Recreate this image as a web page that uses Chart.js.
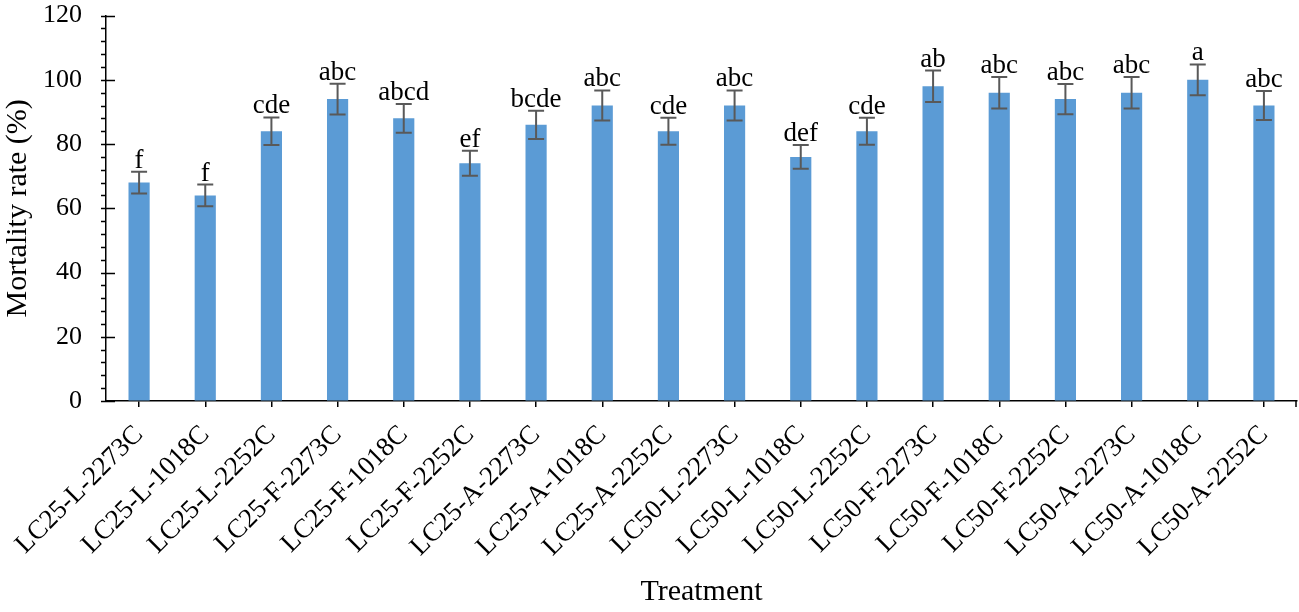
<!DOCTYPE html>
<html>
<head>
<meta charset="utf-8">
<script src="https://cdn.jsdelivr.net/npm/chart.js@4.4.0/dist/chart.umd.min.js"></script>
<style>
  html, body { margin: 0; padding: 0; background: #fff; }
  #wrap { width: 1299px; height: 612px; }
</style>
</head>
<body>
<div id="wrap"><canvas id="chart" width="1299" height="612"></canvas></div>
<script>
// treatments
const treatments = ['LC25-L-2273C', 'LC25-L-1018C', 'LC25-L-2252C', 'LC25-F-2273C', 'LC25-F-1018C', 'LC25-F-2252C',
    'LC25-A-2273C', 'LC25-A-1018C', 'LC25-A-2252C', 'LC50-L-2273C', 'LC50-L-1018C', 'LC50-L-2252C',
    'LC50-F-2273C', 'LC50-F-1018C', 'LC50-F-2252C', 'LC50-A-2273C', 'LC50-A-1018C', 'LC50-A-2252C'];

// mortality rate (%)
const mortality = [68, 64, 84, 94, 88, 74, 86, 92, 84, 92, 76, 84, 98, 96, 94, 96, 100, 92];

// error bar (+/-)
const errors = [3.4, 3.4, 4.3, 4.8, 4.5, 3.9, 4.4, 4.7, 4.2, 4.7, 3.7, 4.2, 4.9, 4.9, 4.7, 4.9, 4.8, 4.5];

// significance letters
const letters = ['f', 'f', 'cde', 'abc', 'abcd', 'ef', 'bcde', 'abc', 'cde', 'abc', 'def', 'cde', 'ab', 'abc', 'abc', 'abc', 'a', 'abc'];

// y axis ticks
const yTicks = [0, 20, 40, 60, 80, 100, 120];
const yMinorStep = 4;

const FONT = '"Liberation Serif", "Times New Roman", serif';

// error bars, letters and y-axis tick marks
const extrasPlugin = {
    id: 'extras',
    afterDatasetsDraw(chart) {
        const ctx = chart.ctx;
        const y = chart.scales.y;
        const meta = chart.getDatasetMeta(0);
        ctx.save();
        ctx.strokeStyle = '#595959';
        ctx.lineWidth = 2;
        meta.data.forEach((bar, i) => {
            const x = bar.x;
            const top = y.getPixelForValue(mortality[i] + errors[i]);
            const bot = y.getPixelForValue(mortality[i] - errors[i]);
            ctx.beginPath();
            ctx.moveTo(x, top); ctx.lineTo(x, bot);
            ctx.moveTo(x - 8, top); ctx.lineTo(x + 8, top);
            ctx.moveTo(x - 8, bot); ctx.lineTo(x + 8, bot);
            ctx.stroke();
            ctx.fillStyle = '#000';
            ctx.font = '27px ' + FONT;
            ctx.textAlign = 'center';
            ctx.textBaseline = 'alphabetic';
            ctx.fillText(letters[i], x, top - 4);
        });
        ctx.restore();
    },
    afterDraw(chart) {
        const ctx = chart.ctx;
        const y = chart.scales.y;
        const x = chart.scales.x;
        const ax = chart.chartArea.left;
        ctx.save();
        ctx.strokeStyle = '#000';
        ctx.lineWidth = 1.5;
        ctx.beginPath();
        for (let v = y.min; v <= y.max; v += yMinorStep) {
            const py = Math.round(y.getPixelForValue(v)) + 0.5;
            if (yTicks.includes(v)) {
                ctx.moveTo(ax - 5, py); ctx.lineTo(ax + 9, py);
            } else {
                ctx.moveTo(ax - 5, py); ctx.lineTo(ax, py);
            }
        }
        // tick at the right end of the x axis
        const bx = chart.chartArea.right - 1;
        ctx.moveTo(bx, x.top); ctx.lineTo(bx, x.top + 6);
        ctx.stroke();
        ctx.restore();
    }
};

new Chart(document.getElementById('chart'), {
    type: 'bar',
    data: {
        labels: treatments,
        datasets: [{
            data: mortality,
            backgroundColor: '#5B9BD5',
            borderWidth: 0,
            categoryPercentage: 1.0,
            barPercentage: 0.32
        }]
    },
    options: {
        responsive: false,
        animation: false,
        devicePixelRatio: 1,
        layout: { padding: { top: 15, right: 2, left: 0, bottom: 0 } },
        plugins: {
            legend: { display: false },
            tooltip: { enabled: false }
        },
        scales: {
            x: {
                grid: {
                    display: true,
                    drawOnChartArea: false,
                    drawTicks: true,
                    tickLength: 6,
                    offset: false,
                    color: '#000',
                    lineWidth: 1.5
                },
                border: { display: true, color: '#000', width: 1.5 },
                ticks: {
                    autoSkip: false,
                    minRotation: 45,
                    maxRotation: 45,
                    padding: 12,
                    color: '#000',
                    font: { family: FONT, size: 27 }
                },
                title: {
                    display: true,
                    text: 'Treatment',
                    color: '#000',
                    font: { family: FONT, size: 30 },
                    padding: { top: 0, bottom: 2 }
                },
                afterFit(scale) { scale.height = 211; }
            },
            y: {
                min: 0,
                max: 120,
                grid: {
                    display: true,
                    drawOnChartArea: false,
                    drawTicks: true,
                    tickLength: 24,
                    tickColor: 'rgba(0,0,0,0)'
                },
                border: { display: true, color: '#000', width: 1.5 },
                ticks: {
                    stepSize: 20,
                    padding: 0,
                    color: '#000',
                    font: { family: FONT, size: 26 }
                },
                title: {
                    display: true,
                    text: 'Mortality rate (%)',
                    color: '#000',
                    font: { family: FONT, size: 30 },
                    padding: { top: 0, bottom: 0 }
                },
                afterFit(scale) { scale.width = 106; }
            }
        }
    },
    plugins: [extrasPlugin]
});
</script>
</body>
</html>
